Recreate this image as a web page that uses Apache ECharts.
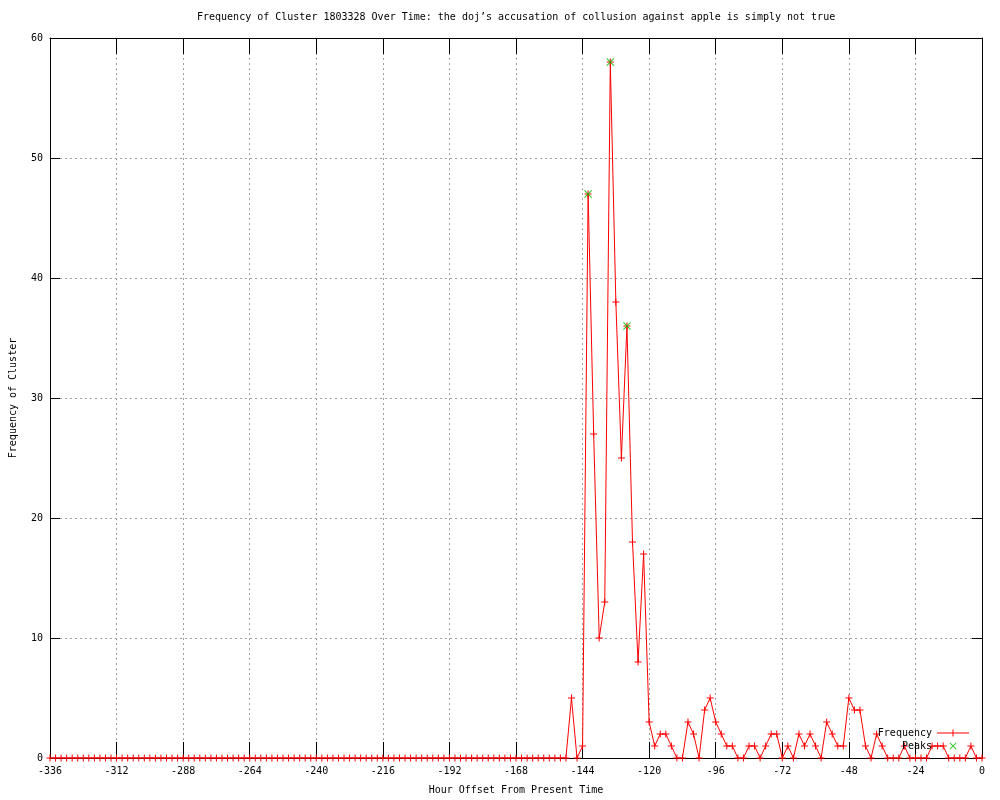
<!DOCTYPE html>
<html>
<head>
<meta charset="utf-8">
<script src="https://cdn.jsdelivr.net/npm/echarts@6/dist/echarts.min.js"></script>
<style>
html,body{margin:0;padding:0;background:#fff;}
#chart{width:1000px;height:800px;}
</style>
</head>
<body>
<div id="chart"></div>
<script>
// ---- data ----
const titleText = 'Frequency of Cluster 1803328 Over Time: the doj\u2019s accusation of collusion against apple is simply not true';
const xAxisName = 'Hour Offset From Present Time';
const yAxisName = 'Frequency of Cluster';
const startHour = -336;   // first sample (hours)
const hourStep = 2;       // sampling interval (hours)
const frequency = [
  0,0,0,0,0,0,0,0,0,0,
  0,0,0,0,0,0,0,0,0,0,
  0,0,0,0,0,0,0,0,0,0,
  0,0,0,0,0,0,0,0,0,0,
  0,0,0,0,0,0,0,0,0,0,
  0,0,0,0,0,0,0,0,0,0,
  0,0,0,0,0,0,0,0,0,0,
  0,0,0,0,0,0,0,0,0,0,
  0,0,0,0,0,0,0,0,0,0,
  0,0,0,0,
  5,0,1,47,27,10,13,58,38,25,
  36,18,8,17,3,1,2,2,1,0,
  0,3,2,0,4,5,3,2,1,1,
  0,0,1,1,0,1,2,2,0,1,
  0,2,1,2,1,0,3,2,1,1,
  5,4,4,1,0,2,1,0,0,0,
  1,0,0,0,0,1,1,1,0,0,
  0,0,1,0,0
];
const peakHours = [-142, -134, -128];
const peakValues = [47, 58, 36];
const xTicks = {min: -336, max: 0, interval: 24};
const yTicks = {min: 0, max: 60, interval: 10};

// ---- build ----
const freqData = frequency.map((v, i) => [startHour + i * hourStep, v]);
const peakData = peakHours.map((h, i) => [h, peakValues[i]]);

const FONT = 'DejaVu Sans Mono';
const plusSym = 'path://M-0.5,-3.5H0.5V3.5H-0.5Z M-3.5,-0.5H3.5V0.5H-3.5Z';
const xSym = 'path://M-4,-3.2L-3.2,-4L4,3.2L3.2,4Z M3.2,-4L4,-3.2L-3.2,4L-4,3.2Z';
const freqIcon = 'path://M0,3H32V4H0Z M15.5,0H16.5V7H15.5Z';
const peakIcon = 'path://M0,3.5L0.01,3.5L0,3.6Z M32,3.5L31.99,3.5L32,3.6Z M12.5,0.7L13.2,0L19.5,6.3L18.8,7Z M18.8,0L19.5,0.7L13.2,7L12.5,6.3Z';

const gridLine = {show: true, lineStyle: {color: '#a0a0a0', width: 1, type: [2, 3]}};
const axisLine = {show: true, onZero: false, lineStyle: {color: '#000', width: 1}};

const chart = echarts.init(document.getElementById('chart'), null, {renderer: 'canvas'});
chart.setOption({
  animation: false,
  backgroundColor: '#fff',
  title: {
    text: titleText,
    left: 197, top: 12,
    padding: 0,
    textStyle: {fontFamily: FONT, fontSize: 10, fontWeight: 'normal', color: '#000'}
  },
  grid: {left: 49, right: 18, top: 38, bottom: 40, containLabel: false},
  legend: {
    orient: 'vertical',
    right: 31, top: 727,
    padding: 0,
    align: 'right',
    itemWidth: 32, itemHeight: 7, itemGap: 1,
    textStyle: {fontFamily: FONT, fontSize: 10, color: '#000', lineHeight: 12},
    data: [
      {name: 'Frequency', icon: freqIcon},
      {name: 'Peaks', icon: peakIcon}
    ]
  },
  xAxis: [{
    type: 'value', position: 'bottom',
    min: xTicks.min, max: xTicks.max, interval: xTicks.interval,
    axisLine: axisLine,
    axisTick: {show: true, inside: true, length: 16, lineStyle: {color: '#000'}},
    axisLabel: {margin: 8, fontFamily: FONT, fontSize: 10, color: '#000'},
    splitLine: gridLine,
    name: xAxisName, nameLocation: 'middle', nameGap: 27,
    nameTextStyle: {fontFamily: FONT, fontSize: 10, color: '#000'}
  }, {
    type: 'value', position: 'top',
    min: xTicks.min, max: xTicks.max, interval: xTicks.interval,
    axisLine: axisLine,
    axisTick: {show: true, inside: true, length: 16, lineStyle: {color: '#000'}},
    axisLabel: {show: false},
    splitLine: {show: false}
  }],
  yAxis: [{
    type: 'value', position: 'left',
    min: yTicks.min, max: yTicks.max, interval: yTicks.interval,
    axisLine: axisLine,
    axisTick: {show: true, inside: true, length: 10, lineStyle: {color: '#000'}},
    axisLabel: {margin: 7, fontFamily: FONT, fontSize: 10, color: '#000'},
    splitLine: gridLine,
    name: yAxisName, nameLocation: 'middle', nameGap: 32, nameRotate: 90,
    nameTextStyle: {fontFamily: FONT, fontSize: 10, color: '#000'}
  }, {
    type: 'value', position: 'right',
    min: yTicks.min, max: yTicks.max, interval: yTicks.interval,
    axisLine: axisLine,
    axisTick: {show: true, inside: true, length: 10, lineStyle: {color: '#000'}},
    axisLabel: {show: false},
    splitLine: {show: false}
  }],
  series: [{
    name: 'Frequency',
    type: 'line',
    xAxisIndex: 0, yAxisIndex: 0,
    data: freqData,
    symbol: plusSym, symbolSize: 7, showAllSymbol: true,
    itemStyle: {color: '#ff0000'},
    lineStyle: {color: '#ff0000', width: 1},
    z: 3
  }, {
    name: 'Peaks',
    type: 'scatter',
    xAxisIndex: 0, yAxisIndex: 0,
    data: peakData,
    symbol: xSym, symbolSize: 8,
    itemStyle: {color: '#00c000'},
    z: 4
  }]
});
</script>
</body>
</html>
